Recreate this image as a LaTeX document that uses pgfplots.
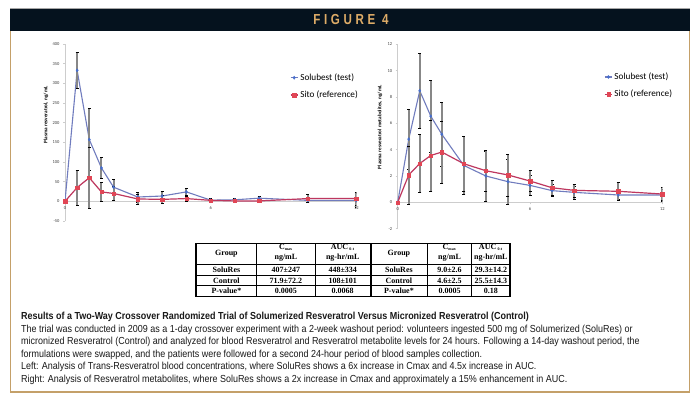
\documentclass[border=0pt]{standalone}
\usepackage{pgfplots}
\pgfplotsset{compat=1.18}
\usepackage{fontspec}
\setmainfont{Liberation Sans}
\newfontfamily\calib{Carlito}
\newfontfamily\capfont[FakeStretch=0.88]{Liberation Sans}
\newfontfamily\headfont[FakeStretch=0.8,LetterSpace=25]{Liberation Sans}
\newfontfamily\tabfont{Liberation Serif}
\definecolor{frame}{RGB}{196,160,105}
\definecolor{hdr}{RGB}{5,18,30}
\definecolor{gold}{RGB}{222,172,104}
\definecolor{sblue}{RGB}{112,124,190}
\definecolor{sbluem}{RGB}{70,110,205}
\definecolor{sred}{RGB}{190,55,95}
\definecolor{sredm}{RGB}{225,70,85}
\definecolor{ebar}{RGB}{135,135,135}
\definecolor{axgray}{RGB}{205,205,205}
\pgfplotsset{
  chartbase/.style={
    scale only axis, anchor=south west,
    xmin=0, xmax=12,
    axis y line=left, axis x line=middle,
    axis line style={-},
    x axis line style={axgray, line width=1.6pt},
    y axis line style={axgray, line width=1pt},
    hide obscured x ticks=false,
    xtick={0,6,12},
    tick align=outside,
    major tick length=2pt,
    tick style={axgray, line width=0.5pt},
    tick label style={font=\calib\fontsize{4.5}{5}\selectfont, text=black!75},
    /pgf/number format/assume math mode=true,
    ylabel style={font=\calib\bfseries\fontsize{5.2}{6}\selectfont, anchor=center},
    legend style={draw=none, fill=none, font=\calib\fontsize{9.2}{10}\selectfont,
      inner sep=0pt, row sep=5pt, legend cell align=left},
    legend image code/.code={\draw[##1,mark repeat=2,mark phase=2] plot coordinates {(0pt,0pt) (3.5pt,0pt) (7pt,0pt)};},
    /tikz/every even column/.append style={column sep=0pt},
    error bars/y dir=both, error bars/y explicit,
    error bars/error bar style={ebar, line width=2pt},
    error bars/error mark options={black, line width=0.5pt, mark size=1.5pt, rotate=90},
  },
  blueser/.style={sblue, line width=1.1pt, mark=diamond*, mark size=1.6pt,
    mark options={sbluem, fill=sbluem, line width=0.3pt}},
  redser/.style={sred, line width=1.2pt, mark=square*, mark size=1.7pt,
    mark options={sredm, fill=sredm, line width=0.3pt}},
}
\begin{document}
\begin{tikzpicture}[x=1pt,y=1pt]
\path[use as bounding box, fill=white] (0pt,0pt) rectangle (700pt,399pt);
% header
\fill[hdr] (10,368) rectangle (690,390);
\draw[black!35, line width=0.6pt] (10,390.3) -- (690,390.3);
\node[text=gold, font=\headfont\bfseries\fontsize{14.5}{14.5}\selectfont] at (351,379) {FIGURE 4};
% frame
\draw[frame, line width=1.3pt] (10.6,368) -- (10.6,7) -- (689.4,7) -- (689.4,368);

% left chart
\begin{axis}[chartbase, at={(65pt,178pt)}, width=291.3pt, height=177pt,
  ymin=-50, ymax=400, ytick={-50,0,50,...,400},
  ylabel={Plasma resveratrol, ng/mL},
  ylabel style={at={(axis description cs:-0.065,0.6)}},
  legend style={at={(0.772,0.845)}, anchor=north west}]
\addplot[blueser] coordinates {
(0,0) +- (0,0)
(0.5,333) +- (0,45)
(1,157) +- (0,79)
(1.5,85) +- (0,26)
(2,36) +- (0,19)
(3,11) +- (0,13)
(4,13.5) +- (0,11)
(5,24) +- (0,9)
(6,3) +- (0,6)
(7,4) +- (0,4)
(8,8) +- (0,4)
(10,2.5) +- (0,4)
(12,2.5) +- (0,17)
};
\addlegendentry{Solubest (test)}
\addplot[redser] coordinates {
(0,0) +- (0,0)
(0.5,35) +- (0,45)
(1,60) +- (0,78)
(1.5,24) +- (0,25)
(2,20) +- (0,18)
(3,6) +- (0,13)
(4,5) +- (0,10)
(5,7) +- (0,6)
(6,2.5) +- (0,4)
(7,1) +- (0,3)
(8,1) +- (0,3)
(10,7) +- (0,10)
(12,7) +- (0,17)
};
\addlegendentry{Sito (reference)}
\end{axis}

% right chart
\begin{axis}[chartbase, at={(397.7pt,170.3pt)}, width=264.6pt, height=184.4pt,
  ymin=-2, ymax=12, ytick={-2,0,2,...,12},
  ylabel={Plasma resveratrol metabolites, ng/mL},
  ylabel style={at={(axis description cs:-0.067,0.55)}},
  legend style={at={(0.78,0.857)}, anchor=north west}]
\addplot[blueser] coordinates {
(0,0) +- (0,0)
(0.5,4.8) +- (0,2.25)
(1,8.47) +- (0,2.85)
(1.5,6.54) +- (0,2.75)
(2,5.17) +- (0,2.46)
(3,2.8) +- (0,2.2)
(4,2.0) +- (0,1.9)
(5,1.57) +- (0,1.7)
(6,1.29) +- (0,0.75)
(7,0.89) +- (0,0.45)
(8,0.76) +- (0,0.5)
(10,0.56) +- (0,0.35)
(12,0.56) +- (0,0.45)
};
\addlegendentry{Solubest (test)}
\addplot[redser] coordinates {
(0,0) +- (0,0)
(0.5,2.08) +- (0,2.2)
(1,2.95) +- (0,2.2)
(1.5,3.56) +- (0,2.7)
(2,3.82) +- (0,2.35)
(3,2.93) +- (0,2.1)
(4,2.4) +- (0,1.56)
(5,2.08) +- (0,1.6)
(6,1.62) +- (0,0.8)
(7,1.11) +- (0,0.55)
(8,0.91) +- (0,0.5)
(10,0.84) +- (0,0.65)
(12,0.63) +- (0,0.5)
};
\addlegendentry{Sito (reference)}
\end{axis}

% table
\begin{scope}[font=\tabfont\bfseries\fontsize{8}{8.5}\selectfont]
\draw[black, line width=0.6pt] (196,134.7) -- (510,134.7);
\draw[black, line width=0.6pt] (196,123.3) -- (510,123.3);
\draw[black, line width=0.6pt] (196,113.3) -- (510,113.3);
\draw[black, line width=1.1pt] (196,155.7) rectangle (510,102.3);
\foreach \xx in {256.7,315,427.3,471.7} \draw[black, line width=0.9pt] (\xx,155.7) -- (\xx,102.3);
\draw[black, line width=2pt] (370.5,155.7) -- (370.5,102.3);
% headers
\node at (226.4,145.2) {Group};
\node at (285.9,151.3) {C\textsubscript{\fontsize{4}{4}\selectfont max}};
\node at (285.9,141.3) {ng/mL};
\node at (342.7,151.3) {AUC\,\textsubscript{\fontsize{4}{4}\selectfont 0-t}};
\node at (342.7,141.3) {ng-hr/mL};
\node at (398.9,145.2) {Group};
\node at (449.5,151.3) {C\textsubscript{\fontsize{4}{4}\selectfont max}};
\node at (449.5,141.3) {ng/mL};
\node at (490.9,151.3) {AUC\,\textsubscript{\fontsize{4}{4}\selectfont 0-t}};
\node at (490.9,141.3) {ng-hr/mL};
% rows
\node at (226.4,129) {SoluRes};
\node at (285.9,129) {407±247};
\node at (342.7,129) {448±334};
\node at (398.9,129) {SoluRes};
\node at (449.5,129) {9.0±2.6};
\node at (490.9,129) {29.3±14.2};
\node at (226.4,118.3) {Control};
\node at (285.9,118.3) {71.9±72.2};
\node at (342.7,118.3) {108±101};
\node at (398.9,118.3) {Control};
\node at (449.5,118.3) {4.6±2.5};
\node at (490.9,118.3) {25.5±14.3};
\node at (226.4,107.8) {P-value*};
\node at (285.9,107.8) {0.0005};
\node at (342.7,107.8) {0.0068};
\node at (398.9,107.8) {P-value*};
\node at (449.5,107.8) {0.0005};
\node at (490.9,107.8) {0.18};
\end{scope}

% caption
\begin{scope}[every node/.style={anchor=west, inner sep=0pt, text=black!90}, font=\capfont\fontsize{10.2}{11}\selectfont]
\node at (21,82) {\bfseries Results of a Two-Way Crossover Randomized Trial of Solumerized Resveratrol Versus Micronized Resveratrol (Control)};
\node at (21,69.5) {The trial was conducted in 2009 as a 1-day crossover experiment with a 2-week washout period: volunteers ingested 500 mg of Solumerized (SoluRes) or};
\node at (21,57) {micronized Resveratrol (Control) and analyzed for blood Resveratrol and Resveratrol metabolite levels for 24 hours. Following a 14-day washout period, the};
\node at (21,44.5) {formulations were swapped, and the patients were followed for a second 24-hour period of blood samples collection.};
\node at (21,32) {Left: Analysis of Trans-Resveratrol blood concentrations, where SoluRes shows a 6x increase in Cmax and 4.5x increase in AUC.};
\node at (21,19.5) {Right: Analysis of Resveratrol metabolites, where SoluRes shows a 2x increase in Cmax and approximately a 15\% enhancement in AUC.};
\end{scope}
\end{tikzpicture}
\end{document}
